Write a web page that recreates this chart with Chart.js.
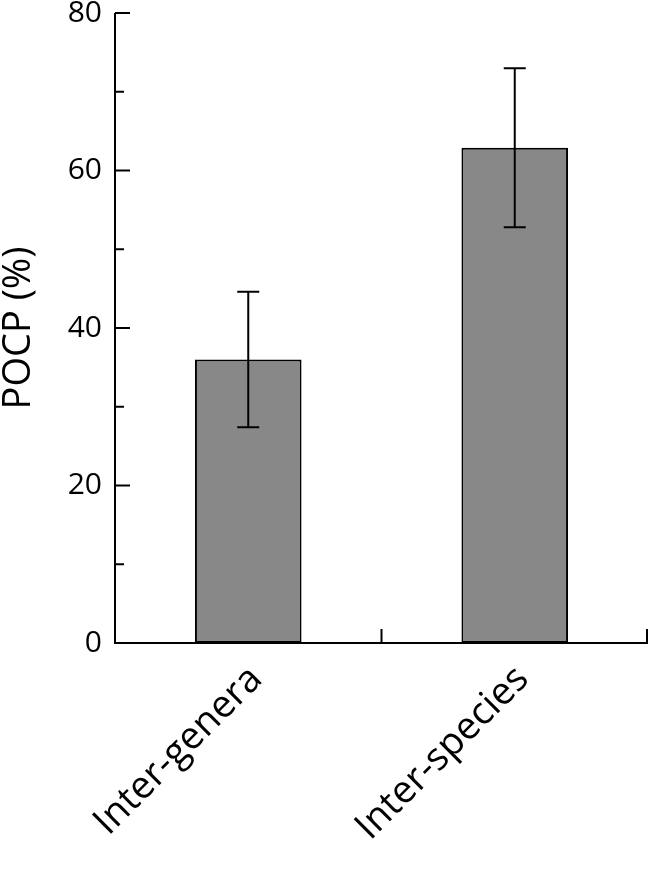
<!DOCTYPE html>
<html>
<head>
<meta charset="utf-8">
<script src="https://cdn.jsdelivr.net/npm/chart.js@4"></script>
<style>
  html, body { margin: 0; padding: 0; background: #ffffff; }
  #wrap { width: 650px; height: 869px; }
</style>
</head>
<body>
<div id="wrap"><canvas id="pocpChart" width="650" height="869"></canvas></div>
<script>
const categories = ["Inter-genera", "Inter-species"];
const pocpMeans = [36.0, 62.9];
const pocpErrors = [8.6, 10.1];
const majorTicks = [0, 20, 40, 60, 80];
const minorTicks = [10, 30, 50, 70];

const fontFamily = "'Open Sans'";

// axes, inward ticks and error bars are drawn by hand
const axisPlugin = {
  id: "axisPlugin",
  afterDatasetsDraw: function (chart) {
    const ctx = chart.ctx;
    const area = chart.chartArea;
    const x = chart.scales.x;
    const y = chart.scales.y;

    ctx.save();
    ctx.strokeStyle = "#000000";
    ctx.lineWidth = 2;
    ctx.lineCap = "butt";

    // error bars
    chart.getDatasetMeta(0).data.forEach(function (bar, i) {
      const cx = bar.x;
      const top = y.getPixelForValue(pocpMeans[i] + pocpErrors[i]);
      const bottom = y.getPixelForValue(pocpMeans[i] - pocpErrors[i]);
      ctx.beginPath();
      ctx.moveTo(cx, top);
      ctx.lineTo(cx, bottom);
      ctx.moveTo(cx - 11, top);
      ctx.lineTo(cx + 11, top);
      ctx.moveTo(cx - 11, bottom);
      ctx.lineTo(cx + 11, bottom);
      ctx.stroke();
    });

    // y axis line
    ctx.beginPath();
    ctx.moveTo(area.left, area.top);
    ctx.lineTo(area.left, area.bottom + 1);
    ctx.stroke();

    // x axis line
    ctx.beginPath();
    ctx.moveTo(area.left, area.bottom);
    ctx.lineTo(area.right, area.bottom);
    ctx.stroke();

    // y ticks pointing inward
    majorTicks.forEach(function (v) {
      const py = y.getPixelForValue(v);
      ctx.beginPath();
      ctx.moveTo(area.left, py);
      ctx.lineTo(area.left + 15, py);
      ctx.stroke();
    });
    minorTicks.forEach(function (v) {
      const py = y.getPixelForValue(v);
      ctx.beginPath();
      ctx.moveTo(area.left, py);
      ctx.lineTo(area.left + 9, py);
      ctx.stroke();
    });

    // x ticks at category boundaries
    const step = x.getPixelForValue(1) - x.getPixelForValue(0);
    for (let i = 0; i < categories.length; i++) {
      const px = Math.min(x.getPixelForValue(i) + step / 2, area.right - 1);
      ctx.beginPath();
      ctx.moveTo(px, area.bottom);
      ctx.lineTo(px, area.bottom - 14);
      ctx.stroke();
    }

    ctx.restore();
  }
};

function createChart() {
  const ctx = document.getElementById("pocpChart").getContext("2d");

  new Chart(ctx, {
    type: "bar",
    data: {
      labels: categories,
      datasets: [
        {
          label: "POCP",
          data: pocpMeans,
          backgroundColor: "#888888",
          borderColor: "#000000",
          borderWidth: 2,
          borderSkipped: false,
          categoryPercentage: 1.0,
          barPercentage: 0.4
        }
      ]
    },
    options: {
      responsive: false,
      animation: false,
      devicePixelRatio: 1,
      layout: {
        padding: { top: 13, right: 2, left: 0, bottom: 0 }
      },
      plugins: {
        legend: { display: false },
        tooltip: { enabled: false }
      },
      scales: {
        x: {
          grid: { display: false, drawTicks: false },
          border: { display: false },
          ticks: {
            color: "#000000",
            font: { family: fontFamily, size: 38 },
            minRotation: 45,
            maxRotation: 45,
            padding: 14,
            labelOffset: 8
          },
          afterFit: function (scale) {
            scale.height = 226;
            scale.paddingLeft = 0;
            scale.paddingRight = 0;
          }
        },
        y: {
          min: 0,
          max: 80,
          grid: { display: false, drawTicks: false },
          border: { display: false },
          ticks: {
            stepSize: 10,
            color: "#000000",
            font: { family: fontFamily, size: 30 },
            padding: 13,
            callback: function (value) {
              return majorTicks.includes(value) ? value : "";
            }
          },
          title: {
            display: true,
            text: "POCP (%)",
            color: "#000000",
            font: { family: fontFamily, size: 38, lineHeight: 1.0 },
            padding: { top: 0, bottom: 0 }
          },
          afterFit: function (scale) {
            scale.width = 115;
            scale.paddingTop = 0;
            scale.paddingBottom = 0;
          }
        }
      }
    },
    plugins: [axisPlugin]
  });
}

Promise.all([
  document.fonts.load("30px 'Open Sans'"),
  document.fonts.load("38px 'Open Sans'")
]).then(createChart, createChart);
</script>
</body>
</html>
